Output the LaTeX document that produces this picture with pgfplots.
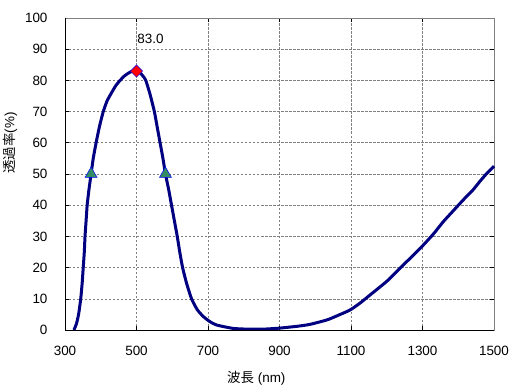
\documentclass[border=0pt]{standalone}
\usepackage{pgfplots}
\pgfplotsset{compat=1.18}
\usepackage{fontspec}
\setmainfont{Liberation Sans}
\newfontfamily\jp{Noto Sans CJK JP}
\definecolor{curve}{RGB}{0,0,128}
\definecolor{tri}{RGB}{51,140,100}
\begin{document}
\begin{tikzpicture}
\path[use as bounding box] (-65bp,-59bp) rectangle (456bp,330bp);
\begin{axis}[
  at={(0,0)}, anchor=south west,
  scale only axis, width=429bp, height=312bp,
  xmin=300, xmax=1500, ymin=0, ymax=100,
  xtick={300,500,...,1500}, ytick={0,10,...,100},
  tick align=inside, major tick length=4bp,
  tick style={black, line width=0.6bp},
  grid=major,
  major grid style={gray, dash pattern=on 2.5bp off 1.5bp, line width=0.6bp},
  axis line style={gray, line width=0.8bp},
  /pgf/number format/assume math mode=true,
  /pgf/number format/1000 sep={},
  tick label style={font=\fontsize{13.5}{14}\selectfont},
  yticklabel style={xshift=-14bp},
  xticklabel style={yshift=-13bp},
  xlabel={{\jp 波長} (nm)},
  ylabel={{\jp 透過率}(\%)},
  label style={font=\fontsize{13.5}{14}\selectfont},
  xlabel style={at={(axis description cs:0.446,-0.154)}, anchor=center},
  ylabel style={at={(axis description cs:-0.128,0.599)}, anchor=center, rotate=0},
  clip=false,
]
\addplot[curve, line width=3bp, smooth, tension=0.35] coordinates {
(325,0) (332,2) (338,5) (344,10) (348,15) (351,20) (354,25) (356,30)
(359,35) (362,40) (367,45) (373,50) (379,55) (387,60) (396,65) (407,70)
(418,73.5) (430,76) (442,78.3) (454,80) (466,81.4) (477,82.3) (489,83)
(500,83) (510,82.4) (518,81.4) (526,80) (538,75.5) (550,70) (558,65)
(566,60) (574,55) (581,50) (590,45) (598,40) (606,35) (614,30) (621,25)
(629,20) (640,15) (654,10) (670,6.5) (687,4.3) (705,2.7) (724,1.6)
(771,0.5) (820,0.25) (860,0.3) (900,0.6) (950,1.2) (985,1.8) (1032,3.2)
(1060,4.5) (1097,6.4) (1125,8.6) (1153,11.2) (1200,15.6) (1237,19.8)
(1270,23.5) (1298,26.7) (1330,30.7) (1358,34.7) (1390,38.7) (1414,41.7)
(1442,45) (1461,47.7) (1480,50.2) (1500,52.5)
};
\addplot[only marks, mark=square*, mark size=4.3bp, mark options={rotate=45, fill=red, draw=blue, line width=0.5bp}] coordinates {(500,83)};
\addplot[only marks, mark=triangle*, mark size=7bp, mark options={fill=tri, draw=blue, line width=0.5bp}] coordinates {(373,50) (581,50)};
\node[anchor=west, inner sep=0pt, font=\fontsize{13.5}{14}\selectfont] at (axis cs:502,93.3) {83.0};
\draw[black, line width=0.8bp] (rel axis cs:0,1) -- (rel axis cs:0,0) -- (rel axis cs:1,0);
\end{axis}
\end{tikzpicture}
\end{document}
